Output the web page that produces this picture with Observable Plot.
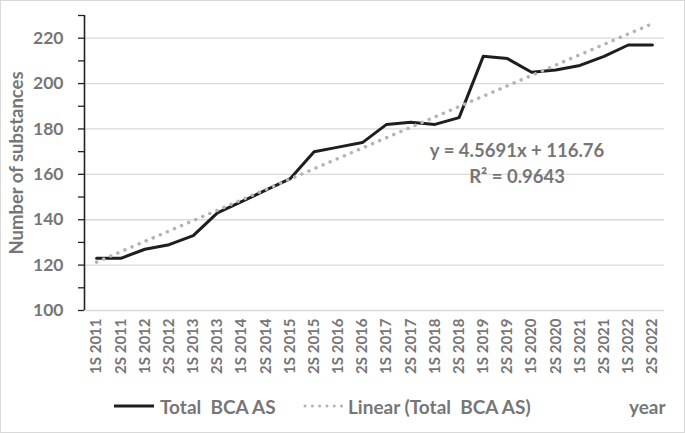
<!DOCTYPE html>
<html><head><meta charset="utf-8">
<script src="https://cdn.jsdelivr.net/npm/d3@7"></script>
<script src="https://cdn.jsdelivr.net/npm/@observablehq/plot@0.6"></script>
<style>
body{margin:0;background:#fff;}
#wrap{position:relative;width:685px;height:433px;font-family:Lato,"Open Sans",sans-serif;overflow:hidden;background:#fff;}
#frame{position:absolute;left:0;top:0;width:685px;height:433px;box-sizing:border-box;border:1px solid #d9d9d9;pointer-events:none;}
.leg{position:absolute;top:394px;height:24px;display:flex;align-items:center;font-size:19px;font-weight:700;color:#767676;white-space:pre;}
.leg svg{margin-right:4px;}
</style></head><body><div id="wrap"></div>
<script>
const periods = ["1S 2011","2S 2011","1S 2012","2S 2012","1S 2013","2S 2013","1S 2014","2S 2014","1S 2015","2S 2015","1S 2016","2S 2016","1S 2017","2S 2017","1S 2018","2S 2018","1S 2019","2S 2019","1S 2020","2S 2020","1S 2021","2S 2021","1S 2022","2S 2022"];
const totals = [123,123,127,129,133,143,148,153,158,170,172,174,182,183,182,185,212,211,205,206,208,212,217,217];
const yTicks = [100,120,140,160,180,200,220];
const yMinorTicks = [100,110,120,130,140,150,160,170,180,190,200,210,220,230];
const equationLines = ["y = 4.5691x + 116.76","R² = 0.9643"];
const legendLabels = ["Total  BCA AS","Linear (Total  BCA AS)"];
const xAxisTitle = "year";
const yAxisTitle = "Number of substances";

const data = periods.map((p,i)=>({idx:i+1, period:p, total:totals[i]}));
const gray = "#767676";

const chart = Plot.plot({
  width: 685, height: 390,
  marginLeft: 84, marginRight: 21, marginTop: 15, marginBottom: 80,
  style: {fontFamily: "Lato, 'Open Sans', sans-serif", background: "transparent", color: gray},
  x: {type: "linear", domain: [0.5, 24.5]},
  y: {domain: [100, 230]},
  marks: [
    Plot.gridY(yTicks, {stroke: "#d9d9d9", strokeOpacity: 1, strokeWidth: 1.3}),
    Plot.axisY(yMinorTicks, {tickSize: 6, tickFormat: () => "", stroke: "#222", strokeWidth: 1.3, label: null}),
    Plot.axisY(yTicks, {tickSize: 0, tickPadding: 21, fontSize: 17.5, fontWeight: "bold", fill: gray, label: null}),
    Plot.ruleX([0.5], {y1: 100, y2: 230, stroke: "#222", strokeWidth: 1.6}),
    Plot.axisX(d3.range(1, 25), {tickSize: 0, tickRotate: -90, tickPadding: 8, tickFormat: d => periods[d - 1], fontSize: 15, fontWeight: "bold", fill: gray, label: null}),
    Plot.text([yAxisTitle], {text: d => d, frameAnchor: "left", textAnchor: "middle", rotate: -90, dx: -67, fontSize: 18.5, fontWeight: "bold", fill: gray}),
    Plot.lineY(data, {x: "idx", y: "total", stroke: "#1e1e1e", strokeWidth: 3}),
    Plot.linearRegressionY(data, {x: "idx", y: "total", ci: 0, stroke: "#b4b4b4", strokeWidth: 3.5, strokeDasharray: "0.1,7.6", strokeLinecap: "round"}),
    Plot.text([equationLines.join("\n")], {text: d => d, x: 18.4, y: 165.6, lineHeight: 1.42, fontSize: 18.5, fontWeight: "bold", fill: gray})
  ]
});

const wrap = document.getElementById("wrap");
wrap.appendChild(chart);

function legendItem(label, left, dotted) {
  const d = document.createElement("div");
  d.className = "leg";
  d.style.left = left + "px";
  const line = dotted
    ? `<svg width="42" height="10"><line x1="3" y1="5" x2="40" y2="5" stroke="#b4b4b4" stroke-width="3" stroke-linecap="round" stroke-dasharray="0.1,7.2"/></svg>`
    : `<svg width="42" height="10"><line x1="0" y1="5" x2="40" y2="5" stroke="#1e1e1e" stroke-width="3"/></svg>`;
  d.innerHTML = line + `<span></span>`;
  d.querySelector("span").textContent = label;
  wrap.appendChild(d);
}
legendItem(legendLabels[0], 114, false);
legendItem(legendLabels[1], 302, true);
const yr = document.createElement("div");
yr.className = "leg";
yr.style.left = "629px";
yr.textContent = xAxisTitle;
wrap.appendChild(yr);
const fr = document.createElement("div");
fr.id = "frame";
wrap.appendChild(fr);
</script></body></html>
